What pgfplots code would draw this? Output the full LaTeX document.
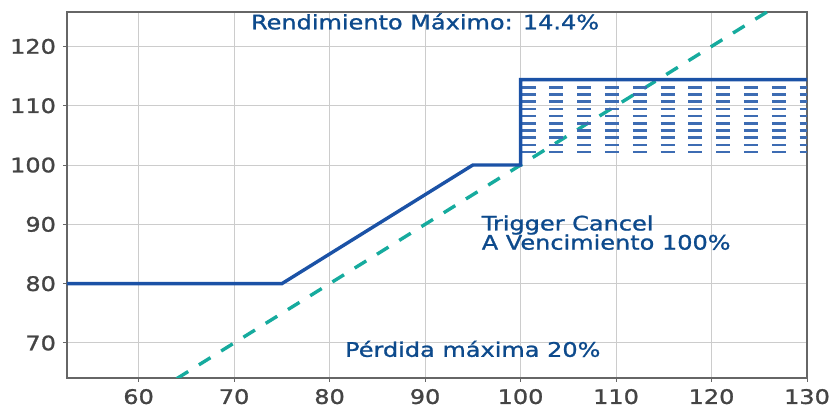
\documentclass[border=0pt]{standalone}
\usepackage{pgfplots}
\pgfplotsset{compat=1.18}
\usepackage{fontspec}
\setmainfont{DejaVu Sans}[FakeStretch=1.2, FakeBold=1.2]
\definecolor{lineblue}{HTML}{1B52A6}
\definecolor{txtblue}{HTML}{0D4A8C}
\definecolor{teal2}{HTML}{16AB9E}
\definecolor{tickgray}{HTML}{444444}
\definecolor{gridgray}{HTML}{CCCCCC}
\begin{document}
\begin{tikzpicture}
\useasboundingbox (0,0) rectangle (416pt,203.5pt);
\begin{axis}[
  at={(33.5pt,14.5pt)}, anchor=south west,
  scale only axis, width=370pt, height=183pt,
  xmin=52.5, xmax=130, ymin=64.1, ymax=125.8,
  xtick={60,70,...,130}, ytick={70,80,...,120},
  grid=major, grid style={gridgray, line width=0.5pt},
  axis line style={draw=black!60, line width=0.6pt},
  tick style={black!60, line width=0.5pt},
  tick align=outside, major tick length=2pt,
  xtick pos=bottom, ytick pos=left,
  ticklabel style={font=\fontsize{10}{11}\selectfont, text=tickgray},
  /pgf/number format/assume math mode=true,
  clip=true,
]
% y = x reference line
\addplot[teal2, line width=1.7pt, dash pattern=on 6.8pt off 6.3pt] coordinates {(50,50) (135,135)};
% hatch lines
\foreach \yy in {102.2,103.41,104.62,105.83,107.04,108.26,109.47,110.68,111.89,113.1} {
  \edef\tmp{\noexpand\addplot[lineblue!85, line width=1.3pt, dash pattern=on 7pt off 6.9pt, dash phase=-0.5pt] coordinates {(100,\yy) (130,\yy)};}
  \tmp
}
% payoff
\addplot[lineblue, line width=1.7pt] coordinates {(52.5,80) (75,80) (95,100) (100,100) (100,114.4) (130,114.4)};
\node[txtblue, font=\fontsize{10}{11}\selectfont] at (axis cs:90,124.2) {Rendimiento Máximo: 14.4\%};
\node[txtblue, font=\fontsize{10}{11}\selectfont, anchor=west, inner sep=0pt] at (axis cs:95.9,89.9) {Trigger Cancel};
\node[txtblue, font=\fontsize{10}{11}\selectfont, anchor=west, inner sep=0pt] at (axis cs:95.9,87.0) {A Vencimiento 100\%};
\node[txtblue, font=\fontsize{10}{11}\selectfont] at (axis cs:95,69) {Pérdida máxima 20\%};
\end{axis}
\end{tikzpicture}
\end{document}
